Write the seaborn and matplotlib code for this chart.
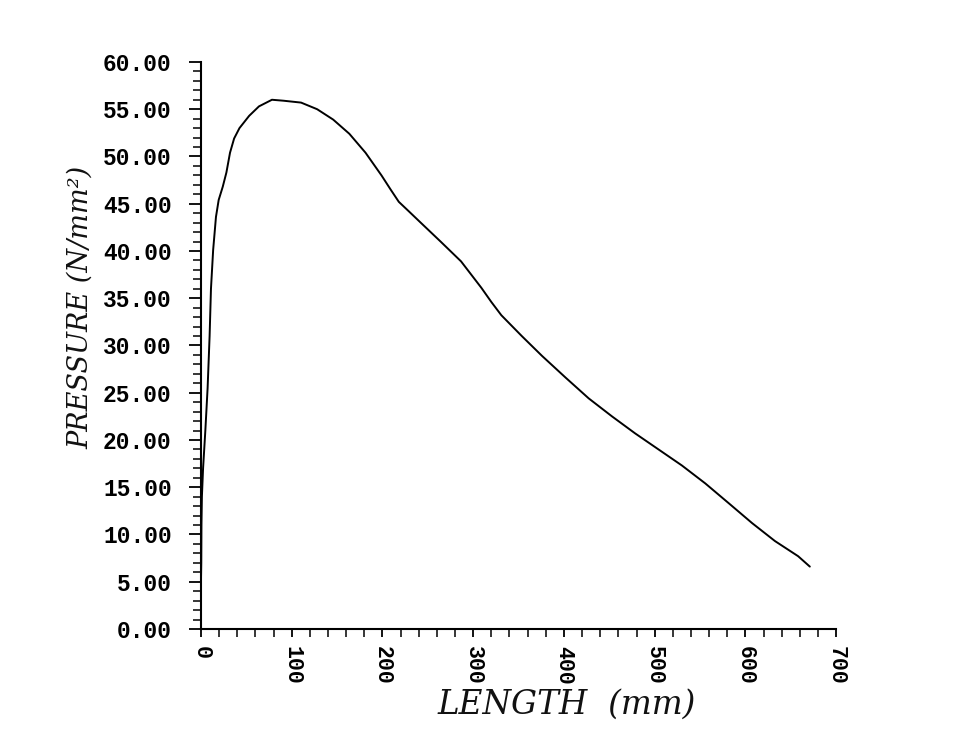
import numpy as np
import pandas as pd
import matplotlib
matplotlib.use("Agg")
import matplotlib.pyplot as plt
from matplotlib.ticker import MultipleLocator, FormatStrFormatter
import seaborn as sns

# Data
length_mm = [0.0, 0.3, 0.5, 1.0, 2.3, 4.8, 7.3, 9.5, 11.0, 13.4, 16.5, 19.5,
             24.0, 28.0, 32.0, 36.5, 42.4, 53.1, 63.9, 78.2, 90.8, 110.3,
             128.0, 145.7, 163.5, 181.3, 198.9, 209.0, 218.0, 229.0, 241.0,
             264.0, 286.6, 309.0, 320.0, 331.0, 353.5, 375.8, 401.8, 427.3,
             452.9, 478.4, 504.2, 530.0, 555.8, 581.7, 607.4, 632.6, 658.1,
             671.0]
pressure = [5.2, 7.0, 11.0, 14.0, 17.0, 21.0, 25.5, 31.0, 36.0, 40.1, 43.6,
            45.4, 46.8, 48.3, 50.4, 51.9, 53.0, 54.3, 55.3, 56.0, 55.9, 55.7,
            55.0, 53.9, 52.4, 50.4, 48.0, 46.5, 45.2, 44.2, 43.1, 41.0, 38.9,
            36.1, 34.6, 33.2, 31.0, 28.9, 26.6, 24.4, 22.5, 20.7, 19.0, 17.3,
            15.4, 13.3, 11.2, 9.3, 7.7, 6.6]

x_ticks = [0, 100, 200, 300, 400, 500, 600, 700]
y_ticks = [0, 5, 10, 15, 20, 25, 30, 35, 40, 45, 50, 55, 60]
x_label = "LENGTH  (mm)"
y_label = "PRESSURE (N/mm²)"

df = pd.DataFrame({"length": length_mm, "pressure": pressure})

sns.set_style("ticks")
plt.rcParams["font.family"] = ["DejaVu Sans"]

fig = plt.figure(figsize=(9.58, 7.51), dpi=100)
ax = fig.add_axes([0.2098, 0.1625, 0.663, 0.755])

sns.lineplot(data=df, x="length", y="pressure", ax=ax, color="black",
             linewidth=1.4, sort=False, estimator=None)
for ln in ax.get_lines():
    ln.set_solid_joinstyle("round")

ax.set_xlim(0, 700)
ax.set_ylim(0, 60)
ax.set_xticks(x_ticks)
ax.set_yticks(y_ticks)
ax.xaxis.set_minor_locator(MultipleLocator(20))
ax.yaxis.set_minor_locator(MultipleLocator(1))
ax.yaxis.set_major_formatter(FormatStrFormatter("%.2f"))

for s in ["top", "right"]:
    ax.spines[s].set_visible(False)
for s in ["left", "bottom"]:
    ax.spines[s].set_linewidth(1.5)
    ax.spines[s].set_color("black")

ax.tick_params(axis="y", which="major", direction="out", length=9, width=1.3,
               pad=12, colors="black")
ax.tick_params(axis="y", which="minor", direction="out", length=6, width=1.1,
               colors="black")
ax.tick_params(axis="x", which="major", direction="out", length=6, width=1.3,
               pad=6, colors="black")
ax.tick_params(axis="x", which="minor", direction="out", length=6, width=1.1,
               colors="black")

for lab in ax.get_yticklabels():
    lab.set_fontfamily(["Liberation Mono", "DejaVu Sans Mono"])
    lab.set_fontweight("bold")
    lab.set_fontsize(16.5)
for lab in ax.get_xticklabels():
    lab.set_fontfamily(["Liberation Mono", "DejaVu Sans Mono"])
    lab.set_fontweight("bold")
    lab.set_fontsize(15.5)
    lab.set_rotation(-90)
    lab.set_va("top")
    lab.set_ha("center")

ax.set_xlabel(x_label, fontfamily=["DejaVu Serif"], fontstyle="italic",
              fontsize=23.5, va="center", ha="center", color="#111111")
ax.xaxis.set_label_coords(0.575, -0.134)
ax.set_ylabel(y_label, fontfamily=["DejaVu Serif"], fontstyle="italic",
              fontsize=19.5, va="center", ha="center", color="#111111")
ax.yaxis.set_label_coords(-0.19, 0.568)

ax.set_facecolor("white")
fig.patch.set_facecolor("white")

fig.savefig("out.png", dpi=100)
